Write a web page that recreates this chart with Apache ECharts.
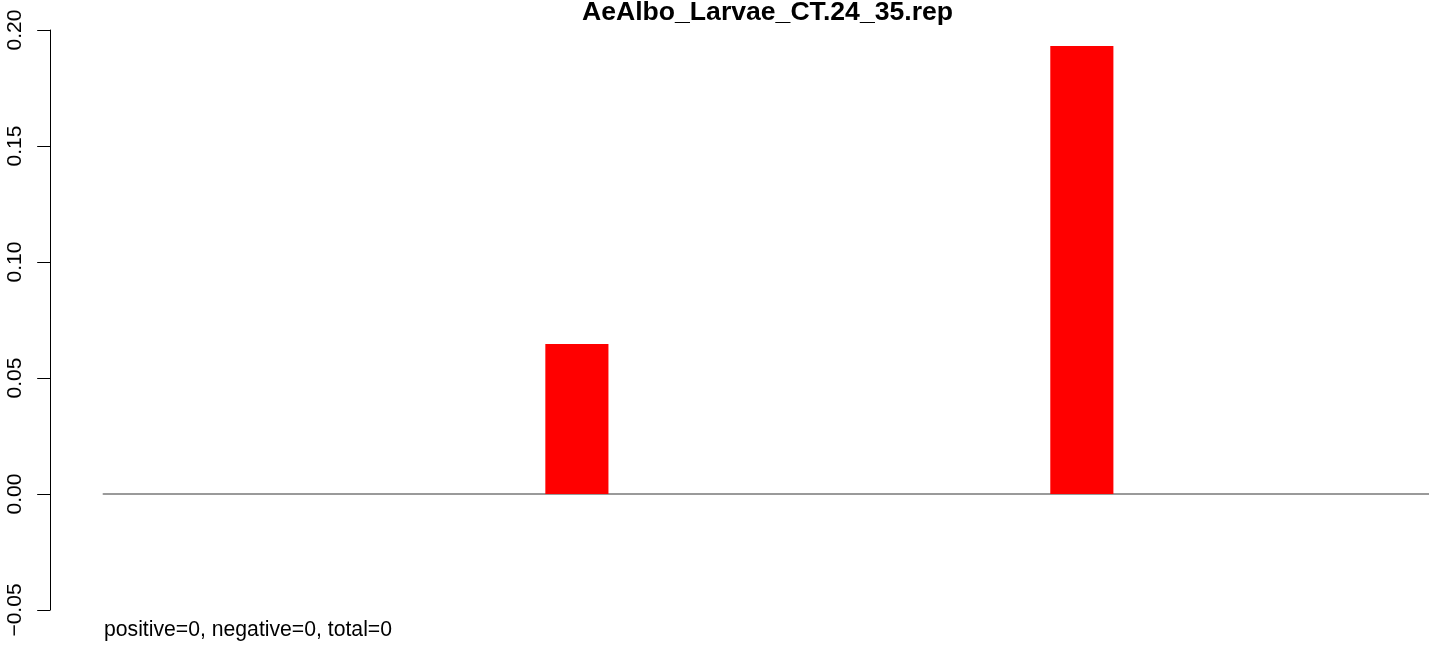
<!DOCTYPE html>
<html>
<head>
<meta charset="utf-8">
<script src="https://cdn.jsdelivr.net/npm/echarts@6/dist/echarts.min.js"></script>
<style>
html,body{margin:0;padding:0;background:#fff;}
#chart{width:1429px;height:646px;}
</style>
</head>
<body>
<div id="chart"></div>
<script>
const chartTitle = 'AeAlbo_Larvae_CT.24_35.rep';
const footerText = 'positive=0, negative=0, total=0';
const categories = ['1','2','3','4','5','6','7','8','9','10','11','12','13','14','15','16','17','18','19','20','21'];
const values = [0,0,0,0,0,0,0,0.0647,0,0,0,0,0,0,0,0.1931,0,0,0,0,0];
const yTicks = [-0.05, 0, 0.05, 0.10, 0.15, 0.20];

const chart = echarts.init(document.getElementById('chart'));
const FONT = '"Liberation Sans", Arial, Helvetica, sans-serif';
chart.setOption({
  animation: false,
  backgroundColor: '#ffffff',
  title: [
    {
      text: chartTitle,
      left: 582,
      top: -1,
      padding: 0,
      textStyle: { fontFamily: FONT, fontWeight: 'bold', fontSize: 26.6, color: '#000' }
    },
    {
      text: footerText,
      left: 104,
      top: 620,
      padding: 0,
      textStyle: { fontFamily: FONT, fontWeight: 'normal', fontSize: 21.2, color: '#000' }
    }
  ],
  grid: { left: 103.5, top: 30, width: 1328.25, height: 580, containLabel: false },
  xAxis: {
    type: 'category',
    data: categories,
    axisLine: { show: true, onZero: true, lineStyle: { color: '#9a9a9a', width: 2 } },
    axisTick: { show: false },
    axisLabel: { show: false },
    splitLine: { show: false }
  },
  yAxis: {
    type: 'value',
    min: yTicks[0],
    max: yTicks[yTicks.length - 1],
    interval: 0.05,
    offset: 53.3,
    axisLine: { show: true, lineStyle: { color: '#000', width: 1 } },
    axisTick: { show: true, length: 13, lineStyle: { color: '#000', width: 1 } },
    splitLine: { show: false },
    axisLabel: {
      rotate: 90,
      margin: 24,
      fontFamily: FONT,
      fontSize: 21,
      color: '#000',
      formatter: function (v) {
        const s = Math.abs(v).toFixed(2);
        return v < -1e-9 ? '\u2212' + s : s;
      }
    }
  },
  series: [{
    type: 'bar',
    data: values,
    barWidth: '100%',
    barCategoryGap: '0%',
    itemStyle: { color: '#ff0000' },
    silent: true
  }]
});
</script>
</body>
</html>
